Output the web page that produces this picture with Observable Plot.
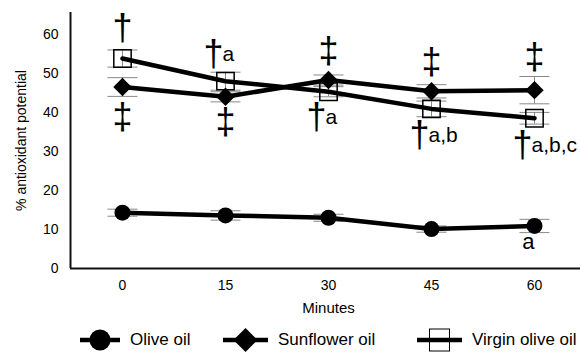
<!DOCTYPE html>
<html><head><meta charset="utf-8">
<script src="https://cdn.jsdelivr.net/npm/d3@7"></script>
<script src="https://cdn.jsdelivr.net/npm/@observablehq/plot@0.6"></script>
<style>
html,body{margin:0;padding:0;background:#fff;overflow:hidden;}
body{font-family:"Liberation Sans",Arial,sans-serif;color:#000;}
#legend{position:relative;width:580px;height:30px;}
#legend .it{position:absolute;top:0;height:30px;display:flex;align-items:center;}
#legend .tx{position:absolute;top:0;height:30px;line-height:30px;font-size:17px;white-space:nowrap;}
</style></head><body>
<div id="chart"></div>
<div id="legend"></div>
<script>
const minutes = [0, 15, 30, 45, 60];
const oliveOil = [14.3, 13.6, 13.0, 10.1, 10.9];
const oliveErr = [0.9, 1.2, 0.9, 0.8, 1.7];
const sunflowerOil = [46.5, 44.0, 48.3, 45.4, 45.7];
const sunflowerErr = [2.4, 1.3, 1.3, 1.7, 3.5];
const virginOliveOil = [53.8, 48.0, 45.3, 40.9, 38.5];
const virginErr = [2.2, 2.3, 1.3, 2.0, 1.5];
const seriesNames = ["Olive oil", "Sunflower oil", "Virgin olive oil"];
const yTicks = [0, 10, 20, 30, 40, 50, 60];

const annMinute = [0, 0, 15, 15, 30, 30, 45, 45, 60, 60, 60];
const annValue  = [61.5, 38.7, 54.9, 37.4, 55.6, 38.7, 52.8, 34.1, 54.1, 31.5, 6.9];
const annSymbol = ["†", "‡", "†", "‡", "‡", "†", "‡", "†", "‡", "†", ""];
const annSuffix = ["", "", "a", "", "", "a", "", "a,b", "", "a,b,c", "a"];

const seriesValues = [oliveOil, sunflowerOil, virginOliveOil];
const seriesErrs = [oliveErr, sunflowerErr, virginErr];
const data = [];
seriesNames.forEach((s, i) => minutes.forEach((m, j) => data.push({series: s, minute: m, value: seriesValues[i][j], err: seriesErrs[i][j]})));
const ann = annMinute.map((m, i) => ({minute: m, value: annValue[i], symbol: annSymbol[i], suffix: annSuffix[i]}));

const capSymbol = {draw(ctx, size) { const r = Math.sqrt(size / Math.PI); ctx.moveTo(-r, 0); ctx.lineTo(r, 0); }};
const xDomain = [-7.57, 66.7];
const font = "Liberation Sans, Arial, sans-serif";

const chart = Plot.plot({
  width: 580, height: 325,
  marginLeft: 70, marginRight: 0, marginTop: 12, marginBottom: 57,
  style: {fontFamily: font, color: "#000", background: "#fff"},
  x: {domain: xDomain, axis: null},
  y: {domain: [0, 65.6], axis: null},
  marks: [
    Plot.axisY(yTicks, {tickSize: 0, tickPadding: 12, fontSize: 14, label: null, fill: "#000"}),
    Plot.axisX(minutes, {tickSize: 0, tickPadding: 12, fontSize: 14, label: null, fill: "#000"}),
    Plot.text(["Minutes"], {x: () => 30, frameAnchor: "bottom", dy: 44, fontSize: 15, fill: "#000"}),
    Plot.text(["% antioxidant potential"], {frameAnchor: "left", textAnchor: "middle", rotate: -90, dx: -49, fontSize: 14, fill: "#000"}),
    Plot.ruleY([0], {stroke: "#111", strokeWidth: 2}),
    Plot.ruleX([xDomain[0]], {stroke: "#111", strokeWidth: 2}),
    Plot.ruleX(data, {x: "minute", y1: d => d.value - d.err, y2: d => d.value + d.err, stroke: "#888", strokeWidth: 1}),
    Plot.dot(data, {x: "minute", y: d => d.value - d.err, symbol: capSymbol, r: 15, fill: "none", stroke: "#888", strokeWidth: 1}),
    Plot.dot(data, {x: "minute", y: d => d.value + d.err, symbol: capSymbol, r: 15, fill: "none", stroke: "#888", strokeWidth: 1}),
    Plot.line(data, {x: "minute", y: "value", z: "series", stroke: "#000", strokeWidth: 4.5}),
    Plot.dot(data.filter(d => d.series === "Olive oil"), {x: "minute", y: "value", r: 8, fill: "#000", stroke: "none", symbol: "circle"}),
    Plot.dot(data.filter(d => d.series === "Sunflower oil"), {x: "minute", y: "value", r: 8.3, fill: "#000", stroke: "none", symbol: "diamond2"}),
    Plot.dot(data.filter(d => d.series === "Virgin olive oil"), {x: "minute", y: "value", r: 9.8, fill: "none", stroke: "#000", strokeWidth: 1.5, symbol: "square"}),
    Plot.text(ann.filter(d => d.symbol && !d.suffix), {x: "minute", y: "value", text: "symbol", fontSize: 36, fill: "#000"}),
    Plot.text(ann.filter(d => d.symbol && d.suffix), {x: "minute", y: "value", text: "symbol", fontSize: 36, dx: -12, fill: "#000"}),
    Plot.text(ann.filter(d => d.symbol && d.suffix), {x: "minute", y: "value", text: "suffix", fontSize: 21, dx: -3, textAnchor: "start", fill: "#000"}),
    Plot.text(ann.filter(d => !d.symbol), {x: "minute", y: "value", text: "suffix", fontSize: 22, dx: -6, fill: "#000"})
  ]
});
document.getElementById("chart").appendChild(chart);

// legend
const legend = document.getElementById("legend");
const items = [
  {name: seriesNames[0], left: 80, w: 40, textLeft: 130, icon: (w) => `<line x1="0" y1="15" x2="${w}" y2="15" stroke="#000" stroke-width="4.5"/><circle cx="${w/2}" cy="15" r="10.5" fill="#000"/>`},
  {name: seriesNames[1], left: 223, w: 45, textLeft: 278, icon: (w) => `<line x1="0" y1="15" x2="${w}" y2="15" stroke="#000" stroke-width="4.5"/><path d="M${w/2},3 L${w/2+12},15 L${w/2},27 L${w/2-12},15Z" fill="#000"/>`},
  {name: seriesNames[2], left: 417, w: 45, textLeft: 472, icon: (w) => `<rect x="${w/2-10}" y="4" width="20" height="22" fill="none" stroke="#000" stroke-width="1"/><line x1="0" y1="15" x2="${w}" y2="15" stroke="#000" stroke-width="4.5"/>`}
];
items.forEach(it => {
  const d = document.createElement("div");
  d.className = "it"; d.style.left = it.left + "px";
  d.innerHTML = `<svg width="${it.w}" height="30" style="display:block;overflow:visible">${it.icon(it.w)}</svg>`;
  legend.appendChild(d);
  const t = document.createElement("div");
  t.className = "tx"; t.style.left = it.textLeft + "px"; t.textContent = it.name;
  legend.appendChild(t);
});
</script>
</body></html>
